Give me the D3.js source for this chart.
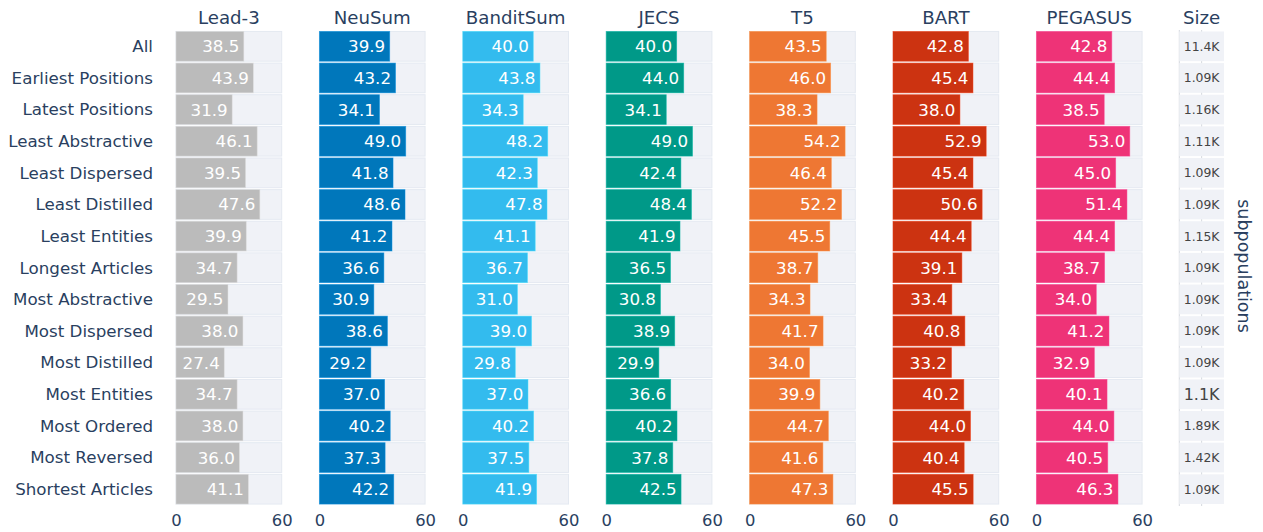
<!DOCTYPE html>
<html>
<head>
<meta charset="utf-8">
<script src="https://cdn.jsdelivr.net/npm/d3@7"></script>
<style>
  body { margin: 0; background: #fff; }
  svg text { font-family: "DejaVu Sans", Verdana, sans-serif; }
</style>
</head>
<body>
<svg id="chart" width="1263" height="532"></svg>
<script>
// sample data

var rows = ["All", "Earliest Positions", "Latest Positions", "Least Abstractive", "Least Dispersed",
  "Least Distilled", "Least Entities", "Longest Articles", "Most Abstractive", "Most Dispersed",
  "Most Distilled", "Most Entities", "Most Ordered", "Most Reversed", "Shortest Articles"];

var models = ["Lead-3", "NeuSum", "BanditSum", "JECS", "T5", "BART", "PEGASUS"];
var colors = ["#bbbbbb", "#0077bb", "#33bbee", "#009988", "#ee7733", "#cc3311", "#ee3377"];

var lead3 = [38.5, 43.9, 31.9, 46.1, 39.5, 47.6, 39.9, 34.7, 29.5, 38.0, 27.4, 34.7, 38.0, 36.0, 41.1];
var neusum = [39.9, 43.2, 34.1, 49.0, 41.8, 48.6, 41.2, 36.6, 30.9, 38.6, 29.2, 37.0, 40.2, 37.3, 42.2];
var banditsum = [40.0, 43.8, 34.3, 48.2, 42.3, 47.8, 41.1, 36.7, 31.0, 39.0, 29.8, 37.0, 40.2, 37.5, 41.9];
var jecs = [40.0, 44.0, 34.1, 49.0, 42.4, 48.4, 41.9, 36.5, 30.8, 38.9, 29.9, 36.6, 40.2, 37.8, 42.5];
var t5 = [43.5, 46.0, 38.3, 54.2, 46.4, 52.2, 45.5, 38.7, 34.3, 41.7, 34.0, 39.9, 44.7, 41.6, 47.3];
var bart = [42.8, 45.4, 38.0, 52.9, 45.4, 50.6, 44.4, 39.1, 33.4, 40.8, 33.2, 40.2, 44.0, 40.4, 45.5];
var pegasus = [42.8, 44.4, 38.5, 53.0, 45.0, 51.4, 44.4, 38.7, 34.0, 41.2, 32.9, 40.1, 44.0, 40.5, 46.3];

var sizes = ["11.4K", "1.09K", "1.16K", "1.11K", "1.09K", "1.09K", "1.15K", "1.09K", "1.09K",
  "1.09K", "1.09K", "1.1K", "1.89K", "1.42K", "1.09K"];

var xTicks = [0, 60];
var xMax = 60;

var scores = [lead3, neusum, banditsum, jecs, t5, bart, pegasus];

// settings

var textColor = "#2a3f5f";
var bgColor = "#f0f2f7";
var bgStroke = "#e4e9f1";
var panelLeft = 176;
var panelWidth = 105.7;
var panelStep = 143.4;
var sizeLeft = 1179.3;
var sizeWidth = 44.7;

var svg = d3.select("#chart");

var y = d3.scaleBand()
  .domain(rows)
  .range([30.5, 505])
  .paddingInner(0.06)
  .paddingOuter(0.03);

// row labels
svg.append("g")
  .selectAll("text")
  .data(rows)
  .enter()
  .append("text")
  .attr("x", 153)
  .attr("y", function(d){ return y(d) + y.bandwidth() / 2; })
  .attr("dy", "0.35em")
  .attr("text-anchor", "end")
  .style("font-size", "16.7px")
  .style("fill", textColor)
  .text(function(d){ return d; });

// one panel per model
models.forEach(function(m, i){
  var left = panelLeft + i * panelStep;
  var x = d3.scaleLinear().domain([0, xMax]).range([left, left + panelWidth]);
  var g = svg.append("g");

  g.append("text")
    .attr("x", left + panelWidth / 2)
    .attr("y", 24)
    .attr("text-anchor", "middle")
    .style("font-size", "18.2px")
    .style("fill", textColor)
    .text(m);

  // background bars up to the axis max
  g.selectAll("rect.bg")
    .data(rows)
    .enter()
    .append("rect")
    .attr("class", "bg")
    .attr("x", x(0))
    .attr("y", function(d){ return y(d); })
    .attr("width", x(xMax) - x(0))
    .attr("height", y.bandwidth())
    .style("fill", bgColor)
    .style("stroke", bgStroke)
    .style("stroke-width", 1);

  var vals = scores[i];
  var edge = d3.color(colors[i]).brighter(0.5);
  edge.opacity = 0.6;

  g.selectAll("rect.bar")
    .data(vals)
    .enter()
    .append("rect")
    .attr("class", "bar")
    .attr("x", x(0))
    .attr("y", function(d, j){ return y(rows[j]); })
    .attr("width", function(d){ return x(d) - x(0); })
    .attr("height", y.bandwidth())
    .style("fill", colors[i])
    .style("stroke", edge + "")
    .style("stroke-width", 0.8);

  g.selectAll("text.val")
    .data(vals)
    .enter()
    .append("text")
    .attr("class", "val")
    .attr("x", function(d){ return x(d) - 4.5; })
    .attr("y", function(d, j){ return y(rows[j]) + y.bandwidth() / 2; })
    .attr("dy", "0.36em")
    .attr("text-anchor", "end")
    .style("font-size", "16.7px")
    .style("fill", "#ffffff")
    .text(function(d){ return d.toFixed(1); });

  var axis = d3.axisBottom(x).tickValues(xTicks).tickSize(0).tickPadding(0);
  var ax = g.append("g")
    .attr("transform", "translate(0,514)")
    .call(axis);
  ax.select(".domain").remove();
  ax.selectAll("text")
    .attr("dy", "0.71em")
    .style("font-size", "16.4px")
    .style("fill", textColor)
    .style("font-family", "DejaVu Sans, Verdana, sans-serif");
});

// size column
var sg = svg.append("g");

sg.append("text")
  .attr("x", sizeLeft + sizeWidth / 2)
  .attr("y", 24)
  .attr("text-anchor", "middle")
  .style("font-size", "18.2px")
  .style("fill", textColor)
  .text("Size");

[sizeLeft, sizeLeft + sizeWidth / 2].forEach(function(gx){
  sg.append("line")
    .attr("x1", gx).attr("x2", gx)
    .attr("y1", 30).attr("y2", 506)
    .style("stroke", "#d4d8de")
    .style("stroke-width", 1);
});

sg.selectAll("rect")
  .data(sizes)
  .enter()
  .append("rect")
  .attr("x", sizeLeft)
  .attr("y", function(d, j){ return y(rows[j]); })
  .attr("width", sizeWidth)
  .attr("height", y.bandwidth())
  .style("fill", bgColor);

sg.selectAll("text.size")
  .data(sizes)
  .enter()
  .append("text")
  .attr("class", "size")
  .attr("x", sizeLeft + sizeWidth / 2)
  .attr("y", function(d, j){ return y(rows[j]) + y.bandwidth() / 2; })
  .attr("dy", "0.36em")
  .attr("text-anchor", "middle")
  .style("font-size", function(d){ return d.length < 5 ? "16px" : "12.4px"; })
  .style("fill", "#444444")
  .text(function(d){ return d; });

// right axis title
svg.append("text")
  .attr("transform", "translate(1244,266) rotate(90)")
  .attr("text-anchor", "middle")
  .attr("dy", "0.35em")
  .style("font-size", "17.5px")
  .style("fill", textColor)
  .text("subpopulations");
</script>
</body>
</html>
